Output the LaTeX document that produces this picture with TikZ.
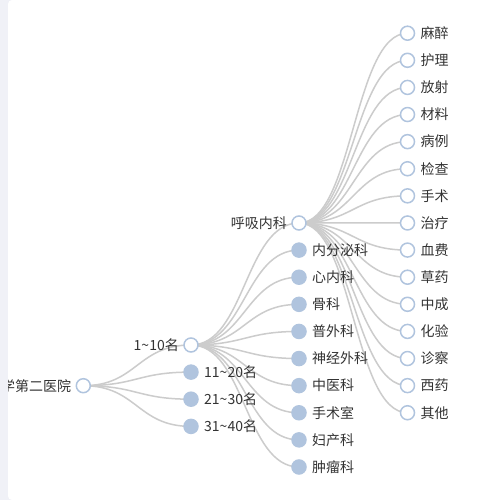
\documentclass[tikz,border=0pt]{standalone}
\usepackage{fontspec}
\setmainfont{Noto Sans CJK SC}
\usetikzlibrary{calc}
\definecolor{nodeblue}{HTML}{B0C4DE}
\definecolor{edgegray}{HTML}{CCCCCC}
\definecolor{txt}{HTML}{333333}
\definecolor{stripcol}{HTML}{F0F1F7}
\pgfdeclarelayer{bg}
\pgfdeclarelayer{edges}
\pgfsetlayers{bg,edges,main}
\tikzset{
  opennode/.style={circle, draw=nodeblue, fill=white, line width=1.5pt, minimum size=14pt, inner sep=0pt},
  leafnode/.style={circle, draw=nodeblue, fill=nodeblue, line width=1.5pt, minimum size=14pt, inner sep=0pt},
  lbl/.style={text=txt, font=\fontsize{14}{14}\selectfont, inner sep=0pt},
  treeedge/.style={draw=edgegray, line width=1.5pt},
}
\newcommand{\curveedge}[2]{%
  \begin{pgfonlayer}{edges}
  \draw[treeedge] let \p1=(#1.center), \p2=(#2.center) in
    (\p1) .. controls ({(\x1+\x2)/2},\y1) and ({(\x1+\x2)/2},\y2) .. (\p2);
  \end{pgfonlayer}}
\begin{document}
\begin{tikzpicture}[x=1pt,y=-1pt]
\useasboundingbox (0,0) rectangle (500,500);
\begin{pgfonlayer}{bg}
\fill[stripcol] (0,0) rectangle (500,500);
\fill[white, rounded corners=4pt] (8,0) rectangle (510,500);
\end{pgfonlayer}

% root
\node[opennode] (root) at (83.3,385.7) {};
\begin{scope}
\clip[rounded corners=4pt] (8,0) rectangle (510,500);
\node[lbl, anchor=east] (lroot) at ($(root.center)+(-12,0)$) {学第二医院};
\end{scope}

% level 1
\node[opennode] (a1) at (191,345.0) {};
\node[leafnode] (a2) at (191,372.1) {};
\node[leafnode] (a3) at (191,399.2) {};
\node[leafnode] (a4) at (191,426.4) {};
\node[lbl, anchor=east] (la1) at ($(a1.center)+(-12,0)$) {1\textasciitilde10名};
\node[lbl, anchor=west] (la2) at ($(a2.center)+(13,0)$) {11\textasciitilde20名};
\node[lbl, anchor=west] (la3) at ($(a3.center)+(13,0)$) {21\textasciitilde30名};
\node[lbl, anchor=west] (la4) at ($(a4.center)+(13,0)$) {31\textasciitilde40名};
\foreach \i in {1,...,4} {\curveedge{root}{a\i}}

% level 2
\node[opennode] (b1) at (299,223.0) {};
\node[lbl, anchor=east] (lb1) at ($(b1.center)+(-12,0)$) {呼吸内科};
\foreach \t [count=\j from 2] in {内分泌科,心内科,骨科,普外科,神经外科,中医科,手术室,妇产科,肿瘤科} {
  \node[leafnode] (b\j) at (299,{223.0+(\j-1)*27.11}) {};
  \node[lbl, anchor=west] (lb\j) at ($(b\j.center)+(13,0)$) {\t};
}
\foreach \j in {1,...,10} {\curveedge{a1}{b\j}}

% level 3
\foreach \t [count=\k from 1] in {麻醉,护理,放射,材料,病例,检查,手术,治疗,血费,草药,中成,化验,诊察,西药,其他} {
  \node[opennode] (c\k) at (407.5,{33.2+(\k-1)*27.11}) {};
  \node[lbl, anchor=west] (lc\k) at ($(c\k.center)+(13,0)$) {\t};
}
\foreach \k in {1,...,15} {\curveedge{b1}{c\k}}
\end{tikzpicture}
\end{document}
